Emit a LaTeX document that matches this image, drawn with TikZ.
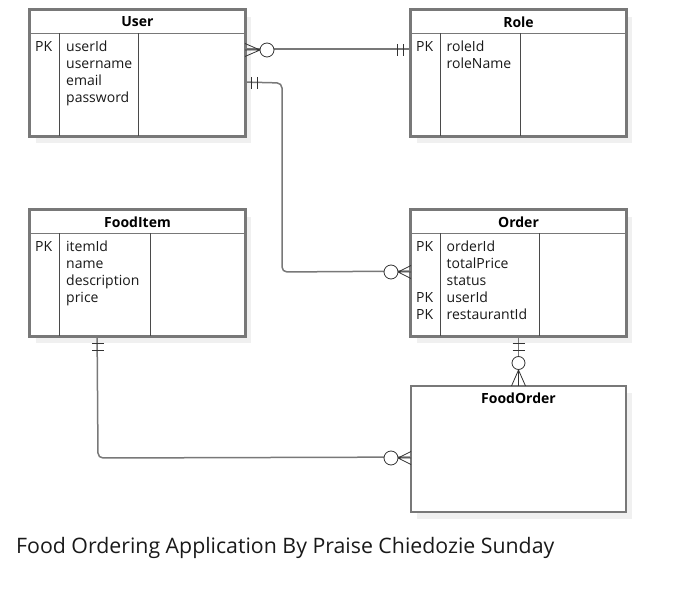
\documentclass[tikz,border=0pt]{standalone}
\usepackage{fontspec}
\setmainfont{Open Sans}
\usetikzlibrary{calc,shadows}
\definecolor{boxgray}{HTML}{787878}
\definecolor{shadowgray}{HTML}{F0F0F0}
\definecolor{divgray}{HTML}{4A4A4A}
\tikzset{
  entity/.style={draw=boxgray, line width=1.8pt, fill=white, minimum width=215pt, minimum height=126pt, inner sep=0pt,
    drop shadow={shadow xshift=6pt, shadow yshift=-7pt, fill=shadowgray, opacity=1}},
  divider/.style={draw=divgray, line width=0.9pt},
  hline/.style={draw=boxgray, line width=1pt},
  hdr/.style={font=\fontsize{14}{16}\selectfont\bfseries, anchor=center, inner sep=0pt, text=black},
  attr/.style={font=\fontsize{14}{16}\selectfont, anchor=base west, inner sep=0pt, text=black!90},
  conn/.style={draw=boxgray, line width=1.5pt, rounded corners=5pt},
  ermark/.style={draw=black!80, line width=0.8pt},
  ring/.style={draw=black!80, line width=0.8pt, fill=white}
}
\begin{document}
\begin{tikzpicture}[x=1pt,y=-1pt]
\useasboundingbox (0,0) rectangle (681,609);
% entities
\node[entity] (user) at (137.5,73) {};
\node[entity] (role) at (518.5,73) {};
\node[entity] (fooditem) at (137.5,273) {};
\node[entity] (order) at (518.5,273) {};
\node[entity] (foodorder) at (518.5,449) {};
% header lines and dividers
\draw[hline] ($(user.north west)+(0,24)$) -- ($(user.north east)+(0,24)$);
\draw[divider] ($(user.north west)+(30,24)$) -- ($(user.south west)+(30,0)$);
\draw[divider] ($(user.north west)+(109,24)$) -- ($(user.south west)+(109,0)$);
\draw[hline] ($(role.north west)+(0,24)$) -- ($(role.north east)+(0,24)$);
\draw[divider] ($(role.north west)+(30,24)$) -- ($(role.south west)+(30,0)$);
\draw[divider] ($(role.north west)+(110,24)$) -- ($(role.south west)+(110,0)$);
\draw[hline] ($(fooditem.north west)+(0,24)$) -- ($(fooditem.north east)+(0,24)$);
\draw[divider] ($(fooditem.north west)+(30,24)$) -- ($(fooditem.south west)+(30,0)$);
\draw[divider] ($(fooditem.north west)+(121,24)$) -- ($(fooditem.south west)+(121,0)$);
\draw[hline] ($(order.north west)+(0,24)$) -- ($(order.north east)+(0,24)$);
\draw[divider] ($(order.north west)+(30,24)$) -- ($(order.south west)+(30,0)$);
\draw[divider] ($(order.north west)+(129,24)$) -- ($(order.south west)+(129,0)$);
% redraw borders over dividers
\draw[draw=boxgray, line width=1.8pt] (user.north west) rectangle (user.south east);
\draw[draw=boxgray, line width=1.8pt] (role.north west) rectangle (role.south east);
\draw[draw=boxgray, line width=1.8pt] (fooditem.north west) rectangle (fooditem.south east);
\draw[draw=boxgray, line width=1.8pt] (order.north west) rectangle (order.south east);
% headers
\node[hdr] (userT) at (137.5,22) {User};
\node[hdr] (roleT) at (518.5,22) {Role};
\node[hdr] (fooditemT) at (137.5,222) {FoodItem};
\node[hdr] (orderT) at (518.5,222) {Order};
\node[hdr] (foodorderT) at (518.5,398) {FoodOrder};
% attributes
\node[attr] (userPK) at (35,51.5) {PK};
\foreach \t [count=\i] in {userId,username,email,password}
  \node[attr] (ua\i) at (66,{51.5+17*(\i-1)}) {\t};
\node[attr] (rolePK) at (416,51.5) {PK};
\foreach \t [count=\i] in {roleId,roleName}
  \node[attr] (ra\i) at (446.5,{51.5+17*(\i-1)}) {\t};
\node[attr] (itemPK) at (35,251.5) {PK};
\foreach \t [count=\i] in {itemId,name,description,price}
  \node[attr] (fa\i) at (66,{251.5+17*(\i-1)}) {\t};
\node[attr] (orderPK1) at (416,251.5) {PK};
\node[attr] (orderPK4) at (416,302.5) {PK};
\node[attr] (orderPK5) at (416,319.5) {PK};
\foreach \t [count=\i] in {orderId,totalPrice,status,userId,restaurantId}
  \node[attr] (oa\i) at (446.5,{251.5+17*(\i-1)}) {\t};
% connectors
\coordinate (c1a) at ($(user.north east)+(0,40)$);
\coordinate (c1b) at ($(role.north west)+(0,40)$);
\draw[conn] (c1a) -- (c1b);
\coordinate (c2a) at ($(user.north east)+(0,73)$);
\coordinate (c2b) at ($(order.north west)+(0,62)$);
\draw[conn] (c2a) -- (282,83) -- (282,272) -- (c2b);
\draw[conn] (order.south) -- (foodorder.north);
\coordinate (c4a) at ($(fooditem.south west)+(68,0)$);
\coordinate (c4b) at ($(foodorder.north west)+(0,72)$);
\draw[conn] (c4a) -- (98,458) -- (c4b);
% zero-or-many at User (connector 1)
\draw[ermark] (260,50) -- (245,43.5) (260,50) -- (245,50) (260,50) -- (245,56.5);
\draw[ring] (267,50) circle[radius=7];
% one-and-only-one at Role
\draw[ermark] (397,44) -- (397,56) (403,44) -- (403,56);
% one-and-only-one at User (connector 2)
\draw[ermark] (251.5,77) -- (251.5,89) (257.5,77) -- (257.5,89);
% zero-or-many at Order left
\draw[ermark] (398,272) -- (411,265.5) (398,272) -- (411,272) (398,272) -- (411,278.5);
\draw[ring] (391,272) circle[radius=7];
% one-and-only-one at Order bottom
\draw[ermark] (512.5,343) -- (524.5,343) (512.5,350) -- (524.5,350);
% zero-or-many at FoodOrder top
\draw[ermark] (518.5,370) -- (511.5,386) (518.5,370) -- (518.5,386) (518.5,370) -- (525.5,386);
\draw[ring] (518.5,363) circle[radius=6.5];
% one-and-only-one at FoodItem bottom
\draw[ermark] (92,343) -- (104,343) (92,350) -- (104,350);
% zero-or-many at FoodOrder left
\draw[ermark] (398,458) -- (411,451.5) (398,458) -- (411,458) (398,458) -- (411,464.5);
\draw[ring] (391,458) circle[radius=7];
% title
\node[font=\fontsize{21.3}{25}\selectfont, anchor=base west, inner sep=0pt, text=black!90] (title) at (16,553.5) {Food Ordering Application By Praise Chiedozie Sunday};
\end{tikzpicture}
\end{document}
